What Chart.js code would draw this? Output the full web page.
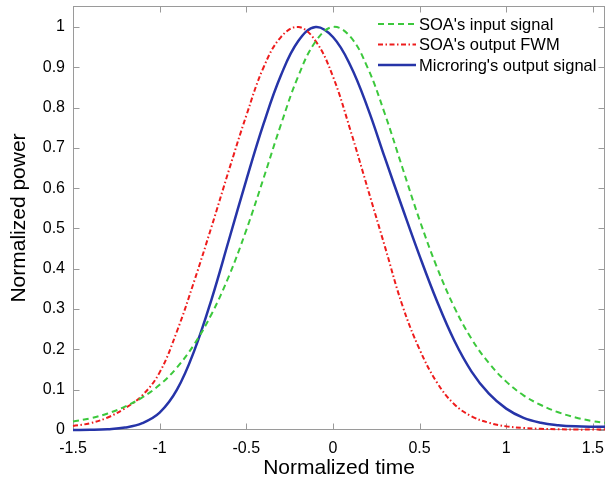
<!DOCTYPE html>
<html>
<head>
<meta charset="utf-8">
<title>Normalized power vs normalized time</title>
<script src="https://cdn.jsdelivr.net/npm/chart.js@4.4.1/dist/chart.umd.min.js"></script>
<style>
  html, body { margin: 0; padding: 0; background: #fff; overflow: hidden; }
  #wrap { width: 606px; height: 486px; position: relative; }
</style>
</head>
<body>
<div id="wrap"><canvas id="pulseChart"></canvas></div>
<script>
// values
const timeValues = [-1.5, -1.4, -1.3, -1.2, -1.1, -1.0, -0.9, -0.8, -0.7, -0.6, -0.5, -0.4, -0.3, -0.2, -0.1, 0,
    0.1, 0.2, 0.3, 0.4, 0.5, 0.6, 0.7, 0.8, 0.9, 1.0, 1.1, 1.2, 1.3, 1.4, 1.5, 1.57];
const inputSignal = [0.021, 0.029, 0.041, 0.058, 0.081, 0.112, 0.155, 0.213, 0.288, 0.382, 0.496, 0.625, 0.758, 0.878, 0.964, 1.0,
    0.976, 0.899, 0.784, 0.652, 0.521, 0.404, 0.305, 0.226, 0.166, 0.12, 0.086, 0.062, 0.044, 0.031, 0.022, 0.018];
const outputFWM = [0.01, 0.017, 0.031, 0.054, 0.086, 0.143, 0.245, 0.37, 0.505, 0.645, 0.78, 0.9, 0.975, 1.0, 0.965, 0.877,
    0.745, 0.6, 0.455, 0.31, 0.2, 0.118, 0.064, 0.034, 0.018, 0.009, 0.005, 0.003, 0.002, 0.001, 0.001, 0.001];
const microringOutput = [0.0, 0.0005, 0.002, 0.006, 0.017, 0.043, 0.1, 0.197, 0.325, 0.472, 0.62, 0.76, 0.88, 0.965, 1.0, 0.975,
    0.905, 0.8, 0.675, 0.552, 0.432, 0.32, 0.222, 0.145, 0.09, 0.053, 0.03, 0.018, 0.012, 0.009, 0.008, 0.008];

const xTicks = [-1.5, -1, -0.5, 0, 0.5, 1, 1.5];
const yTicks = [0, 0.1, 0.2, 0.3, 0.4, 0.5, 0.6, 0.7, 0.8, 0.9, 1];
const seriesNames = ["SOA's input signal", "SOA's output FWM", "Microring's output signal"];

const FONT = "'Liberation Sans', Arial, sans-serif";
const AXIS_GRAY = '#9a9a9a';

function toPoints(values) {
    return timeValues.map(function(t, i) {
        return { x: t, y: values[i] };
    });
}

// MATLAB style box with inward ticks on all four sides
const axesBox = {
    id: 'axesBox',
    beforeDatasetsDraw: function(chart) {
        const ctx = chart.ctx;
        const a = chart.chartArea;
        const sx = chart.scales.x;
        const sy = chart.scales.y;
        const L = Math.round(a.left) + 0.5, R = Math.round(a.right) - 0.5;
        const T = Math.round(a.top) + 0.5, B = Math.round(a.bottom) - 0.5;
        const tl = 6;
        ctx.save();
        ctx.strokeStyle = AXIS_GRAY;
        ctx.lineWidth = 1;
        ctx.strokeRect(L, T, R - L, B - T);
        ctx.beginPath();
        xTicks.forEach(function(v) {
            const px = Math.round(sx.getPixelForValue(v)) + 0.5;
            ctx.moveTo(px, B); ctx.lineTo(px, B - tl);
            ctx.moveTo(px, T); ctx.lineTo(px, T + tl);
        });
        yTicks.forEach(function(v) {
            const py = Math.round(sy.getPixelForValue(v)) + 0.5;
            ctx.moveTo(L, py); ctx.lineTo(L + tl, py);
            ctx.moveTo(R, py); ctx.lineTo(R - tl, py);
        });
        ctx.stroke();
        ctx.restore();
    }
};

// legend inside the plot, top right, no frame
const insideLegend = {
    id: 'insideLegend',
    afterDatasetsDraw: function(chart) {
        const ctx = chart.ctx;
        ctx.save();
        ctx.font = '16.5px ' + FONT;
        ctx.textBaseline = 'middle';
        ctx.fillStyle = '#000';
        chart.data.datasets.forEach(function(ds, i) {
            const y = 24 + i * 20.5;
            ctx.beginPath();
            ctx.strokeStyle = ds.borderColor;
            ctx.lineWidth = ds.borderWidth;
            ctx.setLineDash(ds.borderDash || []);
            ctx.moveTo(378, y);
            ctx.lineTo(416, y);
            ctx.stroke();
            ctx.setLineDash([]);
            ctx.fillText(ds.label, 419, y + 1);
        });
        ctx.restore();
    }
};

function initializePulseChart() {
    const canvas = document.getElementById('pulseChart');
    if(!canvas) return;
    try {
        Chart.defaults.font.family = FONT;
        new Chart(canvas, {
            type: 'line',
            data: {
                datasets: [{
                    label: seriesNames[0],
                    data: toPoints(inputSignal),
                    borderColor: 'rgb(60, 200, 60)',
                    borderWidth: 2,
                    borderDash: [6, 4]
                }, {
                    label: seriesNames[1],
                    data: toPoints(outputFWM),
                    borderColor: 'rgb(238, 28, 28)',
                    borderWidth: 2,
                    borderDash: [5, 2.5, 1.5, 2.5]
                }, {
                    label: seriesNames[2],
                    data: toPoints(microringOutput),
                    borderColor: 'rgb(38, 52, 168)',
                    borderWidth: 2.5
                }]
            },
            options: {
                responsive: true,
                maintainAspectRatio: false,
                animation: false,
                devicePixelRatio: 1,
                layout: {
                    padding: { top: 6, right: 1, left: 0, bottom: 0 }
                },
                elements: {
                    point: { radius: 0 },
                    line: { tension: 0.4, fill: false, borderCapStyle: 'butt' }
                },
                datasets: {
                    line: { clip: false }
                },
                plugins: {
                    legend: { display: false },
                    tooltip: { enabled: false }
                },
                scales: {
                    x: {
                        type: 'linear',
                        min: -1.5,
                        max: 1.57,
                        afterBuildTicks: function(scale) {
                            scale.ticks = xTicks.map(function(v) { return { value: v }; });
                        },
                        afterFit: function(scale) {
                            scale.height = 56;
                            scale.paddingLeft = 0;
                            scale.paddingRight = 0;
                        },
                        grid: { display: false, drawTicks: false },
                        border: { display: false },
                        ticks: {
                            color: '#000',
                            font: { size: 16 },
                            padding: 9,
                            maxRotation: 0,
                            autoSkip: false,
                            callback: function(value) { return String(value); }
                        },
                        title: {
                            display: true,
                            text: 'Normalized time',
                            color: '#000',
                            font: { size: 21 },
                            padding: { top: 0, bottom: 5 }
                        }
                    },
                    y: {
                        min: 0,
                        max: 1.052,
                        afterBuildTicks: function(scale) {
                            scale.ticks = yTicks.map(function(v) { return { value: v }; });
                        },
                        afterFit: function(scale) {
                            scale.width = 73;
                            scale.paddingTop = 0;
                            scale.paddingBottom = 0;
                        },
                        grid: { display: false, drawTicks: false },
                        border: { display: false },
                        ticks: {
                            color: '#000',
                            font: { size: 16 },
                            padding: 8,
                            callback: function(value) { return String(value); }
                        },
                        title: {
                            display: true,
                            text: 'Normalized power',
                            color: '#000',
                            font: { size: 21 },
                            padding: { top: 7, bottom: 0 }
                        }
                    }
                }
            },
            plugins: [axesBox, insideLegend]
        });
    } catch(e) {
        console.error('Error drawing pulse chart:', e);
    }
}

if(document.readyState === 'loading') {
    document.addEventListener('DOMContentLoaded', initializePulseChart);
} else {
    initializePulseChart();
}
</script>
</body>
</html>
